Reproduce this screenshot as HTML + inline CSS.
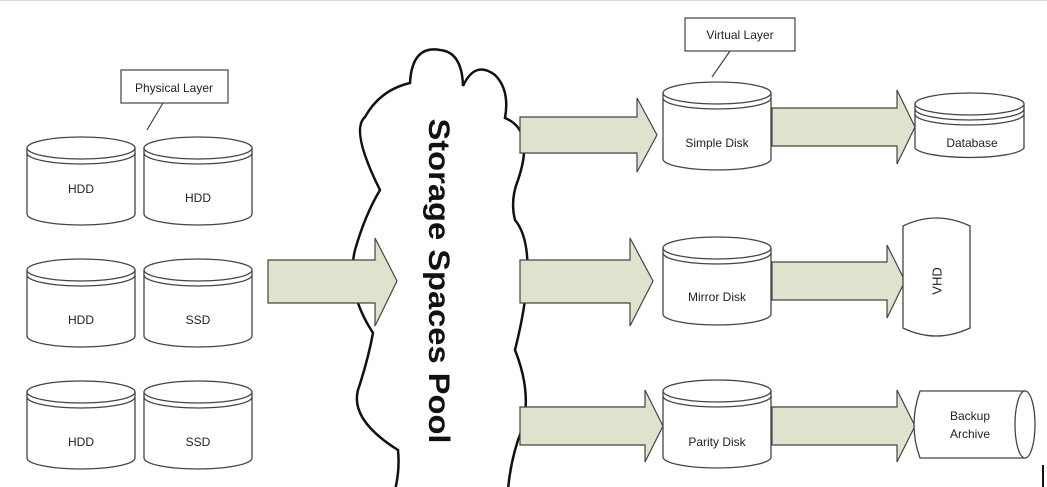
<!DOCTYPE html>
<html><head><meta charset="utf-8"><style>
html,body{margin:0;padding:0;background:#fff;}
svg{display:block;}
text{font-family:"Liberation Sans",sans-serif;fill:#222;}
</style></head><body>
<svg width="1047" height="487" viewBox="0 0 1047 487" xmlns="http://www.w3.org/2000/svg">
<defs>
<g id="cyl">
<path d="M0,11 L0,77 A54,11 0 0 0 108,77 L108,11" fill="#fff" stroke="#444" stroke-width="1.3"/>
<ellipse cx="54" cy="11" rx="54" ry="11" fill="#fff" stroke="#444" stroke-width="1.3"/>
<path d="M0,16 A54,11 0 0 0 108,16" fill="none" stroke="#444" stroke-width="1.3"/>
</g>
</defs>
<line x1="0" y1="0.5" x2="1047" y2="0.5" stroke="#ddd"/>
<!-- physical layer -->
<rect x="121" y="70" width="107" height="33" fill="#fff" stroke="#444" stroke-width="1.2"/>
<text x="174" y="92" font-size="12" text-anchor="middle">Physical Layer</text>
<line x1="163" y1="103" x2="147" y2="130" stroke="#444" stroke-width="1.2"/>
<use href="#cyl" x="27" y="137"/><use href="#cyl" x="144" y="137"/>
<use href="#cyl" x="27" y="259"/><use href="#cyl" x="144" y="259"/>
<use href="#cyl" x="27" y="381"/><use href="#cyl" x="144" y="381"/>
<g font-size="12" text-anchor="middle">
<text x="81" y="193">HDD</text><text x="198" y="202">HDD</text>
<text x="81" y="324">HDD</text><text x="198" y="324">SSD</text>
<text x="81" y="446">HDD</text><text x="198" y="446">SSD</text>
</g>
<!-- cloud -->
<path d="M410,83 Q412,45 440,50 Q462,52 463,86 Q475,60 495,75 Q510,90 505,118 Q535,130 518,180 Q510,200 515,220 Q540,250 515,350 Q535,400 518,440 Q510,465 508,490 L395,490 Q400,470 398,450 Q350,420 358,390 Q368,360 373,333 Q345,290 355,250 Q365,215 380,190 Q350,130 365,117 Q380,90 410,83 Z" fill="#fff" stroke="#111" stroke-width="2.5"/>
<!-- arrows -->
<g fill="#dde3cc" stroke="#444" stroke-width="1.2">
<path d="M268,260 L375,260 L375,238 L397,281 L375,326 L375,303 L268,303 Z"/>
<path d="M520,117 L637,117 L637,98 L657,135 L637,172 L637,153 L520,153 Z"/>
<path d="M520,260 L630,260 L630,238 L653,281 L630,326 L630,303 L520,303 Z"/>
<path d="M520,407 L645,407 L645,390 L663,426 L645,462 L645,445 L520,445 Z"/>
<path d="M772,108 L897,108 L897,90 L915,127 L897,164 L897,146 L772,146 Z"/>
<path d="M772,262 L887,262 L887,245 L905,281 L887,318 L887,300 L772,300 Z"/>
<path d="M772,407 L897,407 L897,390 L915,426 L897,462 L897,445 L772,445 Z"/>
</g>
<text transform="translate(437,281) rotate(90)" font-size="30" font-weight="bold" text-anchor="middle" dominant-baseline="middle" textLength="325" lengthAdjust="spacingAndGlyphs" style="fill:#111">Storage Spaces Pool</text>
<!-- virtual layer -->
<rect x="685" y="18" width="110" height="33" fill="#fff" stroke="#444" stroke-width="1.2"/>
<text x="740" y="39" font-size="12" text-anchor="middle">Virtual Layer</text>
<line x1="730" y1="51" x2="712" y2="77" stroke="#444" stroke-width="1.2"/>
<use href="#cyl" x="663" y="82"/>
<use href="#cyl" x="663" y="237"/>
<use href="#cyl" x="663" y="380"/>
<g font-size="12" text-anchor="middle">
<text x="717" y="147">Simple Disk</text>
<text x="717" y="301">Mirror Disk</text>
<text x="717" y="446">Parity Disk</text>
</g>
<!-- database -->
<path d="M915,104 L915,148 A55,11 0 0 0 1024,148 L1024,104" fill="#fff" stroke="#444" stroke-width="1.3"/>
<ellipse cx="969.5" cy="104" rx="54.5" ry="11" fill="#fff" stroke="#444" stroke-width="1.3"/>
<path d="M915,109 A54.5,11 0 0 0 1024,109 M915,114 A54.5,11 0 0 0 1024,114" fill="none" stroke="#444" stroke-width="1.3"/>
<text x="972" y="147" font-size="12" text-anchor="middle">Database</text>
<!-- VHD -->
<path d="M903,226 Q936,210 970,226 L970,328 Q936,344 903,328 Z" fill="#fff" stroke="#444" stroke-width="1.3"/>
<text transform="translate(938,281) rotate(-90)" font-size="13" text-anchor="middle" dominant-baseline="middle">VHD</text>
<!-- backup -->
<path d="M920,391 L1025,391 L1025,458 L920,458 Q908,425 920,391 Z" fill="#fff" stroke="#444" stroke-width="1.3"/>
<ellipse cx="1025" cy="424.5" rx="10" ry="33.5" fill="#fff" stroke="#444" stroke-width="1.3"/>
<text x="970" y="420" font-size="12" text-anchor="middle">Backup</text>
<text x="970" y="438" font-size="12" text-anchor="middle">Archive</text>
<rect x="1042" y="465" width="2" height="22" fill="#111"/>
</svg>
</body></html>
